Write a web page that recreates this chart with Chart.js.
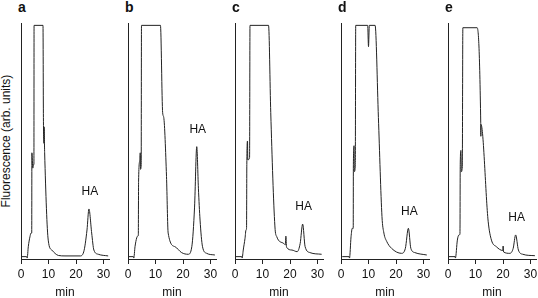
<!DOCTYPE html>
<html>
<head>
<meta charset="utf-8">
<script src="https://cdn.jsdelivr.net/npm/chart.js@4.4.1/dist/chart.umd.min.js"></script>
<style>
  html, body { margin: 0; padding: 0; background: #fff; }
  body { position: relative; width: 538px; height: 298px; overflow: hidden; font-family: "Liberation Sans", Arial, sans-serif; color: #111; }
  canvas { position: absolute; top: 0; }
  .panel-letter { position: absolute; top: 0; font-size: 14px; line-height: 14px; font-weight: bold; }
  .y-title { position: absolute; width: 200px; left: -94px; top: 135px; height: 12px; line-height: 12px; font-size: 12px; text-align: center; transform: rotate(-90deg); white-space: nowrap; }
</style>
</head>
<body>
<div class="y-title">Fluorescence (arb. units)</div>
<script>
// panels and axis labels
const panelLetters = ['a', 'b', 'c', 'd', 'e'];
const xTicks = [0, 10, 20, 30];
const xTitle = 'min';
const peakLabel = 'HA';

// chromatograms: time (min) / signal (% of full scale)
const timeA   = [0.25, 2.05, 2.25, 2.65, 3.25, 3.65, 3.9, 3.96, 4.3, 4.55, 4.7, 4.75, 8.0, 8.15, 8.35, 8.4, 8.6, 9.9, 11.2, 13.6, 16.0, 21.5, 22.8, 24.0, 24.7, 25.7, 26.5, 28.1, 31.7];
const signalA = [1.0, 1.0, 0.4, 5.2, 9.4, 11.0, 11.0, 45, 38.5, 40, 40, 99, 99, 60, 49, 56, 45, 8, 3.8, 1.5, 1.3, 1.3, 3.0, 12.3, 21.2, 11, 3.8, 2.0, 1.3];

const timeB   = [0.1, 1.95, 2.1, 2.55, 3.15, 3.55, 3.75, 3.85, 4.3, 4.45, 4.55, 4.8, 4.9, 11.8, 12.6, 13.0, 14.0, 14.6, 17.1, 19.5, 21.9, 23.2, 24.2, 25.0, 25.6, 26.2, 27.1, 28.6, 31.6];
const signalB = [1.0, 1.0, 0.4, 5.2, 8.9, 9.7, 10, 33, 42, 45, 38, 40, 99, 99, 62, 60, 35, 11, 5.2, 2.7, 2.0, 5.2, 22, 47.6, 30, 16.5, 5.2, 2.4, 1.7];

const timeC   = [0.1, 2.45, 2.6, 3.0, 3.65, 4.0, 4.2, 4.3, 4.55, 4.65, 5.3, 5.45, 12.2, 13.0, 14.5, 15.2, 17.7, 18.3, 18.5, 18.75, 20.7, 22.6, 23.7, 24.6, 25.5, 27.3, 31.5];
const signalC = [1.0, 1.0, 0.4, 3.8, 8.8, 12.3, 13, 40, 50, 42, 43, 99, 99, 62, 14, 9.4, 6.6, 6.0, 9.7, 5.0, 3.8, 3.1, 6.6, 14.8, 5.2, 2.7, 2.0];

const timeD   = [0.45, 2.9, 3.1, 3.65, 4.1, 4.45, 4.5, 4.75, 4.85, 5.2, 5.35, 9.7, 10.0, 10.3, 12.4, 13.6, 14.9, 15.6, 16.6, 18.4, 22.0, 23.4, 24.5, 25.4, 26.9, 31.2];
const signalD = [1.0, 1.0, 0.4, 9.4, 13, 13, 40, 48, 37, 40, 99, 99, 90, 99, 99, 60, 18, 11, 7.5, 4.5, 2.4, 4.5, 13, 4.5, 2.7, 1.7];

const timeE   = [0.35, 2.55, 2.7, 3.4, 4.0, 4.35, 4.45, 4.7, 4.85, 5.2, 5.4, 10.6, 11.9, 11.95, 12.0, 14.6, 15.8, 17.6, 19.9, 20.05, 20.2, 22.5, 23.7, 24.6, 25.6, 27.2, 31.6];
const signalE = [1.0, 1.0, 0.4, 8, 10.2, 10.5, 40, 46, 37, 39, 98, 98, 58, 52, 57, 16, 8, 5.2, 3.6, 5.5, 3.0, 2.4, 4.5, 10.2, 3.8, 2.0, 1.4];

const panelTimes = [timeA, timeB, timeC, timeD, timeE];
const panelSignals = [signalA, signalB, signalC, signalD, signalE];

// layout (px)
const axisLefts = [21, 128, 235, 341, 448];
const PAD_L = 12, PAD_R = 10, PLOT_W = 88, PLOT_TOP = 23;
const CANVAS_H = 304, X_AXIS_H = 45;
const FONT = '"Liberation Sans", Arial, sans-serif';

// writes "HA" above the late peak
const haLabel = {
    id: 'haLabel',
    afterDatasetsDraw(chart) {
        const pts = chart.data.datasets[0].data.filter(p => p.x > 22 && p.x < 28);
        const peak = pts.reduce((m, p) => p.y > m.y ? p : m);
        const x = chart.scales.x.getPixelForValue(peak.x);
        const y = chart.scales.y.getPixelForValue(peak.y);
        const ctx = chart.ctx;
        ctx.save();
        ctx.font = '12px ' + FONT;
        ctx.fillStyle = '#111';
        ctx.textAlign = 'center';
        ctx.textBaseline = 'middle';
        ctx.fillText(peakLabel, x + 1, y - 17);
        ctx.restore();
    }
};

panelLetters.forEach((letter, i) => {
    const x0 = axisLefts[i];

    const lab = document.createElement('div');
    lab.className = 'panel-letter';
    lab.style.left = (x0 - 3) + 'px';
    lab.textContent = letter;
    document.body.appendChild(lab);

    const canvas = document.createElement('canvas');
    canvas.width = PAD_L + PLOT_W + PAD_R;
    canvas.height = CANVAS_H;
    canvas.style.left = (x0 - PAD_L) + 'px';
    document.body.appendChild(canvas);

    const points = panelTimes[i].map((t, k) => ({ x: t, y: panelSignals[i][k] }));

    new Chart(canvas.getContext('2d'), {
        type: 'line',
        data: {
            datasets: [{
                data: points,
                borderColor: '#222',
                borderWidth: 1,
                pointRadius: 0,
                fill: false,
                cubicInterpolationMode: 'monotone'
            }]
        },
        options: {
            responsive: false,
            animation: false,
            layout: { padding: { left: PAD_L, right: PAD_R, top: PLOT_TOP, bottom: 0 } },
            plugins: { legend: { display: false }, tooltip: { enabled: false } },
            scales: {
                x: {
                    type: 'linear',
                    min: 0,
                    max: 32,
                    afterBuildTicks: s => { s.ticks = xTicks.map(v => ({ value: v })); },
                    afterFit: s => { s.height = X_AXIS_H; },
                    ticks: { color: '#111', font: { size: 12, family: FONT }, padding: 3, maxRotation: 0 },
                    grid: { display: true, drawOnChartArea: false, tickLength: 5, color: '#222' },
                    border: { display: true, color: '#222', width: 1 },
                    title: { display: true, text: xTitle, color: '#111', font: { size: 12, family: FONT }, padding: { top: 4, bottom: 4 } }
                },
                y: {
                    min: 0,
                    max: 100,
                    afterFit: s => { s.width = 0; },
                    ticks: { display: false },
                    grid: { display: false },
                    border: { display: true, color: '#222', width: 1 }
                }
            }
        },
        plugins: [haLabel]
    });
});
</script>
</body>
</html>
